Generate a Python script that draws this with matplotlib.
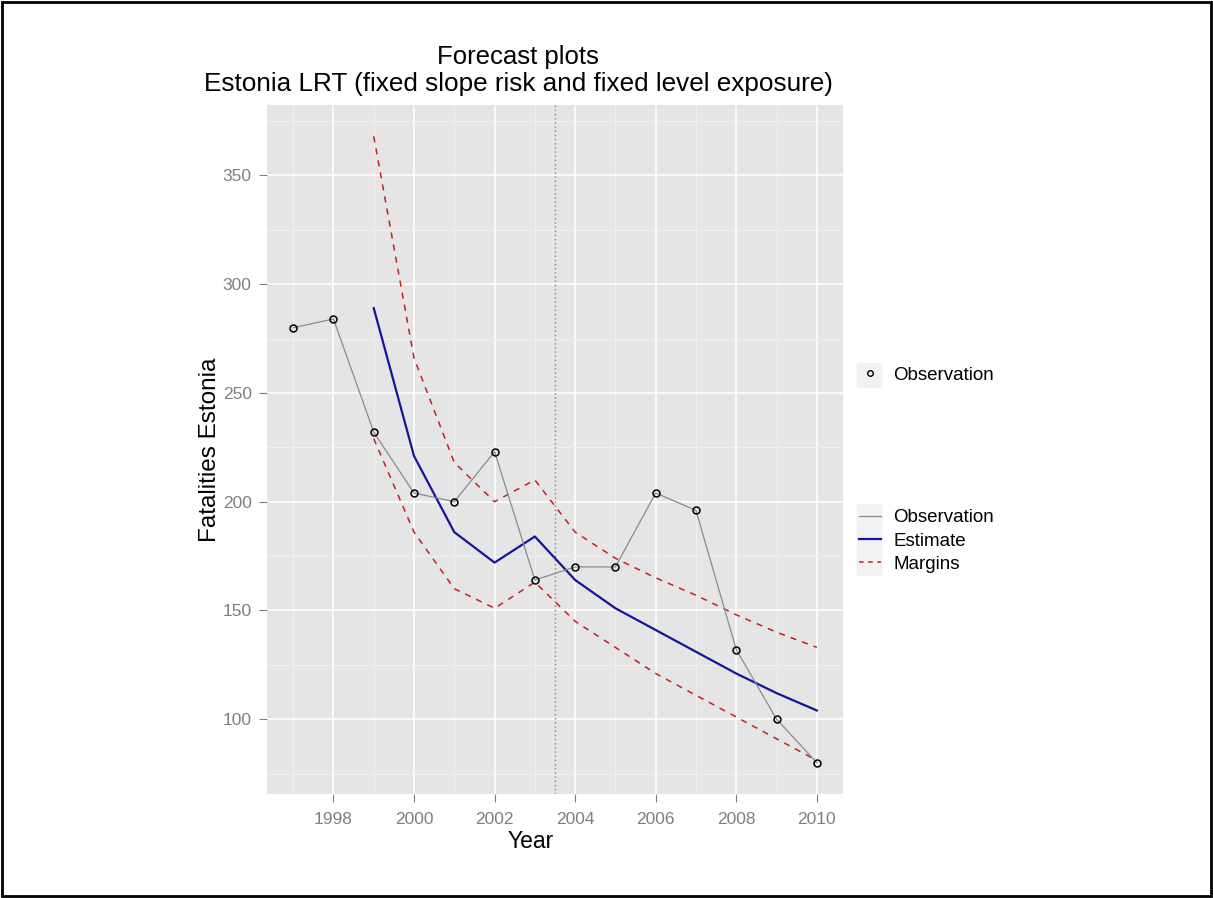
import matplotlib.pyplot as plt
from matplotlib.lines import Line2D
from matplotlib.patches import Rectangle
import numpy as np

plt.rcParams['font.family'] = ['Liberation Sans', 'DejaVu Sans']

# observed fatalities
years = list(range(1997, 2011))
observed = [280, 284, 232, 204, 200, 223, 164, 170, 170, 204, 196, 132, 100, 80]

# model estimate and margins (from 1999)
est_years = list(range(1999, 2011))
estimate = [289, 221, 186, 172, 184, 164, 151, 141, 131, 121, 112, 104]
upper = [368, 266, 218, 200, 210, 186, 174, 165, 157, 148, 140, 133]
lower = [229, 186, 160, 151, 163, 145, 133, 121, 111, 101, 91, 81]

forecast_start = 2003.5
x_ticks = [1998, 2000, 2002, 2004, 2006, 2008, 2010]
y_ticks = [100, 150, 200, 250, 300, 350]

W, H = 1213, 898
fig = plt.figure(figsize=(W / 100, H / 100), dpi=100)
ax = fig.add_axes([267 / W, 1 - 794 / H, 576 / W, 689 / H])

ax.set_facecolor('#E5E5E5')
for s in ax.spines.values():
    s.set_visible(False)

# ggplot-like expansion of limits
xr = max(years) - min(years)
ax.set_xlim(min(years) - 0.05 * xr, max(years) + 0.05 * xr)
ymin = min(min(observed), min(lower))
ymax = max(max(observed), max(upper))
yr = ymax - ymin
ax.set_ylim(ymin - 0.05 * yr, ymax + 0.05 * yr)

ax.set_xticks(x_ticks)
ax.set_yticks(y_ticks)
ax.set_xticks(np.arange(1997, 2010, 2), minor=True)
ax.set_yticks(np.arange(75, 400, 50), minor=True)
ax.grid(which='major', color='white', lw=1.2)
ax.grid(which='minor', color='#F2F2F2', lw=0.6)
ax.set_axisbelow(True)
ax.tick_params(which='major', length=6, width=0.8, color='#7F7F7F',
               labelcolor='#7F7F7F', labelsize=12.5, pad=5)
ax.tick_params(axis='x', which='major', pad=7)
ax.tick_params(which='minor', length=0)

ax.axvline(forecast_start, color='#7F7F7F', lw=1, ls=(0, (1, 2)))

ax.plot(est_years, upper, color='#C81E1E', lw=1.1, ls=(0, (4, 4)))
ax.plot(est_years, lower, color='#C81E1E', lw=1.1, ls=(0, (4, 4)))
ax.plot(est_years, estimate, color='#14149C', lw=1.6)
ax.plot(years, observed, color='#8A8A8A', lw=0.9)
ax.plot(years, observed, ls='none', marker='o', ms=5, mfc='none',
        mec='black', mew=1.1)

ax.set_xlabel('Year', fontsize=16.5, va='center')
ax.set_ylabel('Fatalities Estonia', fontsize=17.5, va='center')
ax.xaxis.set_label_coords((531 - 267) / 576, -(841 - 794) / 689)
ax.yaxis.set_label_coords((210 - 267) / 576, 0.5)

fig.text(518 / W, 1 - 57 / H, 'Forecast plots', ha='center', va='center', fontsize=18.5)
fig.text(518 / W, 1 - 84 / H, 'Estonia LRT (fixed slope risk and fixed level exposure)',
         ha='center', va='center', fontsize=18.8)

# legend key backgrounds
for cy in [375, 516, 540, 563]:
    fig.patches.append(Rectangle(((857) / W, 1 - (cy + 12) / H), 24 / W, 24 / H,
                                 transform=fig.transFigure, color='#F2F2F2', zorder=0))

h1 = [Line2D([], [], ls='none', marker='o', ms=4, mfc='none', mec='black', mew=1)]
fig.legend(h1, ['Observation'], loc='center left',
           bbox_to_anchor=(851 / W, 1 - 375 / H), frameon=False, borderaxespad=0,
           fontsize=13.5, handlelength=1.2, handletextpad=0.65)
h2 = [Line2D([], [], color='#8A8A8A', lw=0.9),
      Line2D([], [], color='#14149C', lw=1.6),
      Line2D([], [], color='#C81E1E', lw=1.1, ls=(0, (3, 3)))]
fig.legend(h2, ['Observation', 'Estimate', 'Margins'], loc='center left',
           bbox_to_anchor=(851 / W, 1 - 541 / H), frameon=False, borderaxespad=0,
           fontsize=13.5, handlelength=1.2, handletextpad=0.65, labelspacing=0.33)

fig.patches.append(Rectangle((2 / W, 2 / H), (W - 4) / W, (H - 4) / H,
                             transform=fig.transFigure, fill=False, lw=2, ec='black'))

fig.savefig('out.png', dpi=100)
